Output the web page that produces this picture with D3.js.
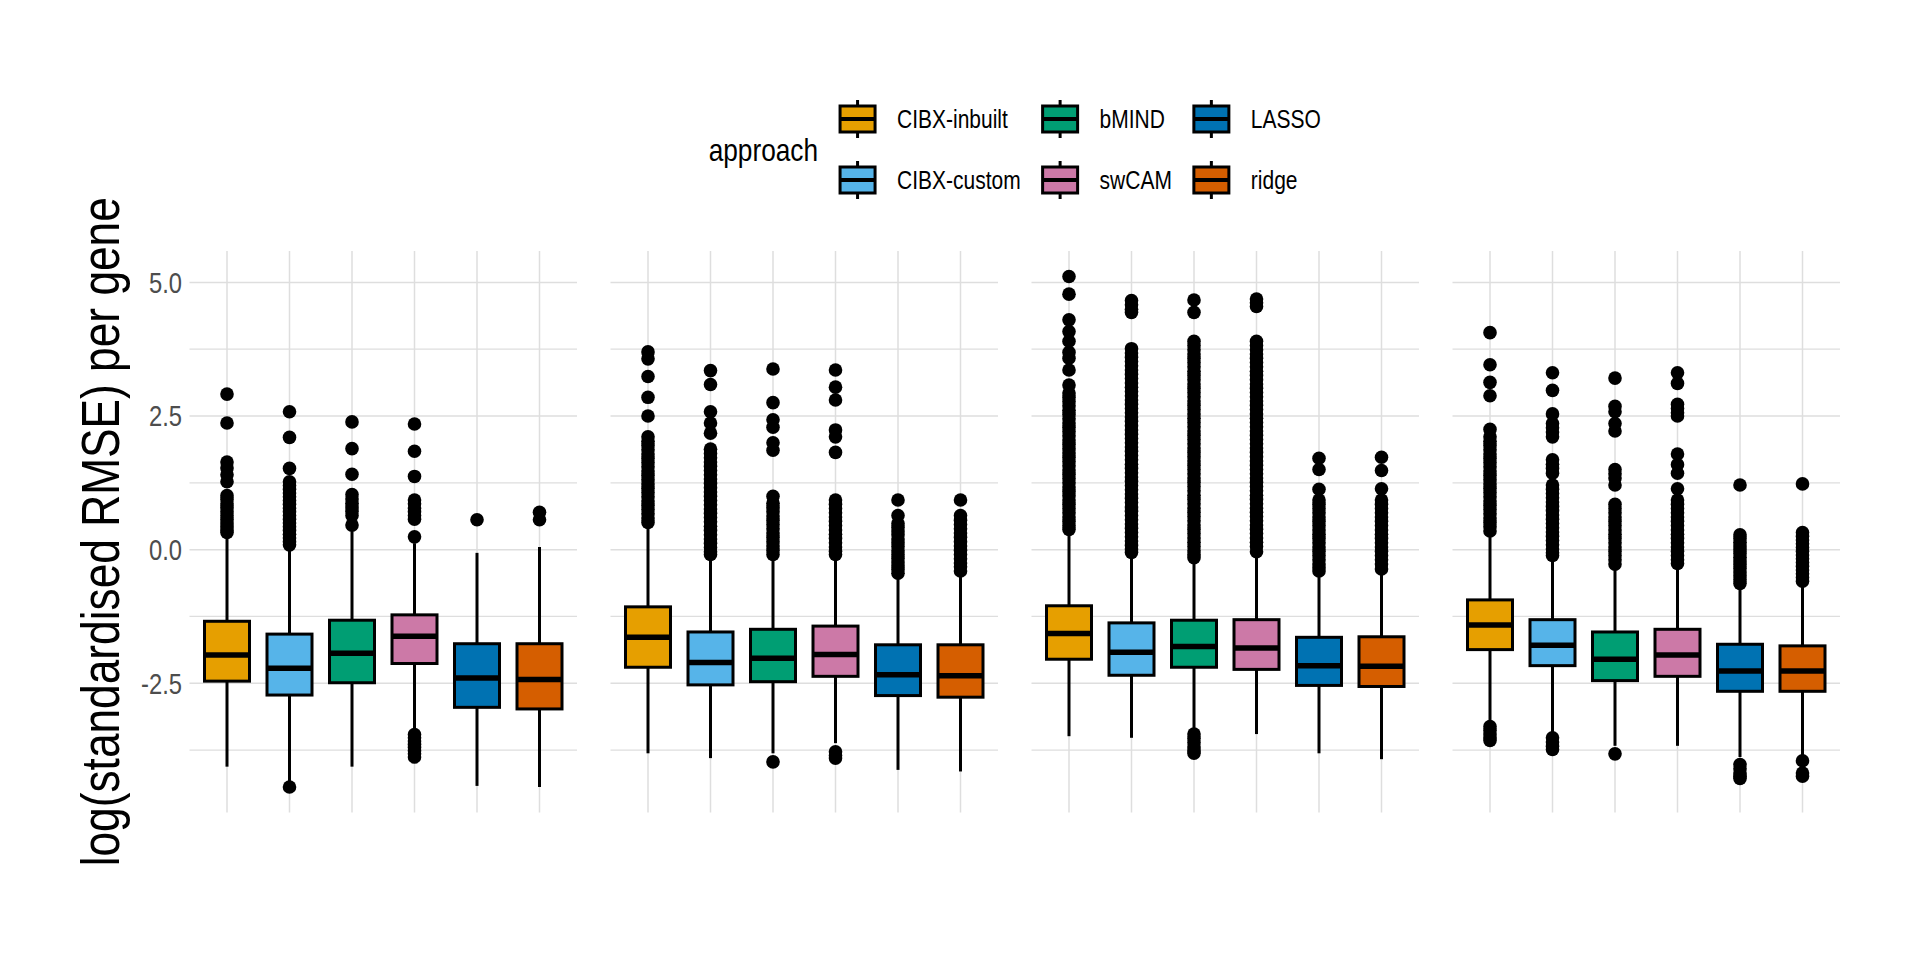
<!DOCTYPE html>
<html><head><meta charset="utf-8">
<script src="https://cdn.jsdelivr.net/npm/d3@7/dist/d3.min.js"></script>
<style>body{margin:0;background:#fff}svg{display:block}</style>
</head><body>
<svg id="chart" width="1920" height="960"></svg>
<script>
// ---------------- data ----------------
const approaches = ["CIBX-inbuilt", "CIBX-custom", "bMIND", "swCAM", "LASSO", "ridge"];
const approachColors = ["#E69F00", "#56B4E9", "#009E73", "#CC79A7", "#0072B2", "#D55E00"];
const panels = ["panel1", "panel2", "panel3", "panel4"];
const yMajorTicks = [-2.5, 0, 2.5, 5];
const yMinorTicks = [-3.75, -1.25, 1.25, 3.75];
const yTickLabels = ["-2.5", "0.0", "2.5", "5.0"];

// rows = panels, columns = approaches
const q1 = [
  [-2.46, -2.72, -2.49, -2.13, -2.95, -2.98],
  [-2.20, -2.53, -2.47, -2.37, -2.73, -2.76],
  [-2.05, -2.35, -2.20, -2.24, -2.54, -2.56],
  [-1.87, -2.17, -2.45, -2.37, -2.65, -2.65]
];
const medians = [
  [-1.97, -2.22, -1.94, -1.62, -2.40, -2.43],
  [-1.64, -2.11, -2.03, -1.96, -2.34, -2.36],
  [-1.57, -1.92, -1.81, -1.84, -2.17, -2.18],
  [-1.41, -1.79, -2.05, -1.97, -2.27, -2.27]
];
const q3 = [
  [-1.34, -1.58, -1.32, -1.22, -1.76, -1.76],
  [-1.07, -1.54, -1.49, -1.43, -1.78, -1.78],
  [-1.05, -1.37, -1.32, -1.31, -1.64, -1.63],
  [-0.94, -1.31, -1.54, -1.49, -1.77, -1.80]
];
const whiskerLow = [
  [-4.06, -4.36, -4.06, -3.41, -4.42, -4.44],
  [-3.81, -3.90, -3.81, -3.62, -4.12, -4.15],
  [-3.49, -3.52, -3.34, -3.45, -3.81, -3.92],
  [-3.27, -3.45, -3.67, -3.67, -3.88, -3.85]
];
const whiskerHigh = [
  [0.28, 0.03, 0.40, 0.12, -0.06, 0.05],
  [0.45, -0.12, -0.15, -0.14, -0.50, -0.48],
  [0.33, -0.10, -0.20, -0.10, -0.45, -0.42],
  [0.30, -0.16, -0.34, -0.32, -0.70, -0.67]
];

const outliersPanel1 = [
  [2.91, 2.37, 1.64, 1.53, 1.40, 1.27, 1.01, 0.94, 0.86, 0.79, 0.71, 0.64, 0.57, 0.50, 0.43, 0.37, 0.32],
  [2.58, 2.10, 1.52, 1.27, 1.20, 1.13, 1.06, 0.99, 0.92, 0.85, 0.78, 0.71, 0.64, 0.57, 0.50, 0.43, 0.36, 0.29, 0.22, 0.15, 0.09, -4.44],
  [2.39, 1.89, 1.41, 1.03, 0.95, 0.87, 0.80, 0.72, 0.64, 0.46],
  [2.35, 1.84, 1.37, 0.93, 0.86, 0.78, 0.71, 0.64, 0.57, 0.24, -3.46, -3.52, -3.58, -3.64, -3.70, -3.76, -3.82, -3.88],
  [0.56],
  [0.70, 0.56]
];
const outliersPanel2 = [
  [3.70, 3.57, 3.24, 2.85, 2.50, 2.11, 2.03, 1.95, 1.87, 1.79, 1.71, 1.63, 1.55, 1.47, 1.39, 1.31, 1.23, 1.15, 1.07, 0.99, 0.91, 0.83, 0.75, 0.67, 0.59, 0.51],
  [3.35, 3.09, 2.58, 2.37, 2.18, 1.88, 1.80, 1.72, 1.64, 1.56, 1.48, 1.40, 1.32, 1.24, 1.16, 1.08, 1.00, 0.92, 0.84, 0.76, 0.68, 0.60, 0.52, 0.44, 0.36, 0.28, 0.20, 0.12, 0.04, -0.04, -0.09],
  [3.38, 2.75, 2.43, 2.29, 2.00, 1.86, 1.00, 0.87, 0.79, 0.71, 0.63, 0.55, 0.47, 0.39, 0.31, 0.23, 0.15, 0.07, -0.01, -0.09, -3.97],
  [3.36, 3.04, 2.80, 2.24, 2.11, 1.82, 0.93, 0.85, 0.77, 0.69, 0.61, 0.53, 0.45, 0.37, 0.29, 0.21, 0.13, 0.05, -0.03, -0.09, -3.78, -3.85, -3.90],
  [0.93, 0.64, 0.49, 0.42, 0.35, 0.28, 0.20, 0.13, 0.06, -0.02, -0.09, -0.16, -0.23, -0.30, -0.37, -0.44],
  [0.93, 0.64, 0.55, 0.47, 0.39, 0.31, 0.23, 0.15, 0.07, -0.01, -0.09, -0.17, -0.25, -0.32, -0.40]
];
const outliersPanel3 = [
  [5.11, 4.78, 4.30, 4.08, 3.90, 3.69, 3.58, 3.36, 3.08, 2.93, 2.85, 2.77, 2.69, 2.61, 2.53, 2.45, 2.37, 2.29, 2.21, 2.13, 2.05, 1.97, 1.89, 1.81, 1.73, 1.65, 1.57, 1.49, 1.41, 1.33, 1.25, 1.17, 1.09, 1.01, 0.93, 0.85, 0.77, 0.69, 0.61, 0.53, 0.45, 0.38],
  [4.66, 4.58, 4.50, 4.44, 3.76, 3.68, 3.60, 3.52, 3.44, 3.36, 3.28, 3.20, 3.12, 3.04, 2.96, 2.88, 2.80, 2.72, 2.64, 2.56, 2.48, 2.40, 2.32, 2.24, 2.16, 2.08, 2.00, 1.92, 1.84, 1.76, 1.68, 1.60, 1.52, 1.44, 1.36, 1.28, 1.20, 1.12, 1.04, 0.96, 0.88, 0.80, 0.72, 0.64, 0.56, 0.48, 0.40, 0.32, 0.24, 0.16, 0.08, 0.01, -0.05],
  [4.67, 4.44, 3.90, 3.82, 3.74, 3.66, 3.58, 3.50, 3.42, 3.34, 3.26, 3.18, 3.10, 3.02, 2.94, 2.86, 2.78, 2.70, 2.62, 2.54, 2.46, 2.38, 2.30, 2.22, 2.14, 2.06, 1.98, 1.90, 1.82, 1.74, 1.66, 1.58, 1.50, 1.42, 1.34, 1.26, 1.18, 1.10, 1.02, 0.94, 0.86, 0.78, 0.70, 0.62, 0.54, 0.46, 0.38, 0.30, 0.22, 0.14, 0.06, -0.02, -0.09, -0.15, -3.45, -3.53, -3.61, -3.69, -3.76, -3.81],
  [4.69, 4.62, 4.55, 3.90, 3.82, 3.74, 3.66, 3.58, 3.50, 3.42, 3.34, 3.26, 3.18, 3.10, 3.02, 2.94, 2.86, 2.78, 2.70, 2.62, 2.54, 2.46, 2.38, 2.30, 2.22, 2.14, 2.06, 1.98, 1.90, 1.82, 1.74, 1.66, 1.58, 1.50, 1.42, 1.34, 1.26, 1.18, 1.10, 1.02, 0.94, 0.86, 0.78, 0.70, 0.62, 0.54, 0.46, 0.38, 0.30, 0.22, 0.14, 0.06, -0.04],
  [1.71, 1.50, 1.13, 0.93, 0.85, 0.77, 0.69, 0.61, 0.53, 0.45, 0.37, 0.29, 0.21, 0.13, 0.05, -0.03, -0.11, -0.19, -0.27, -0.34, -0.40],
  [1.73, 1.48, 1.14, 0.93, 0.85, 0.77, 0.69, 0.61, 0.53, 0.45, 0.37, 0.29, 0.21, 0.13, 0.05, -0.03, -0.11, -0.19, -0.27, -0.36]
];
const outliersPanel4 = [
  [4.06, 3.46, 3.13, 2.88, 2.25, 2.11, 2.03, 1.95, 1.87, 1.79, 1.71, 1.63, 1.55, 1.47, 1.39, 1.31, 1.23, 1.15, 1.07, 0.99, 0.91, 0.83, 0.75, 0.67, 0.59, 0.51, 0.43, 0.35, -3.31, -3.38, -3.45, -3.52, -3.57],
  [3.31, 2.98, 2.54, 2.36, 2.28, 2.20, 2.11, 1.68, 1.60, 1.52, 1.43, 1.21, 1.13, 1.05, 0.97, 0.89, 0.81, 0.73, 0.65, 0.57, 0.49, 0.41, 0.33, 0.25, 0.17, 0.09, 0.01, -0.06, -0.11, -3.52, -3.60, -3.68, -3.74],
  [3.21, 2.68, 2.58, 2.36, 2.22, 1.50, 1.42, 1.34, 1.21, 0.85, 0.77, 0.69, 0.61, 0.53, 0.45, 0.37, 0.29, 0.21, 0.13, 0.05, -0.03, -0.11, -0.19, -0.27, -3.82],
  [3.31, 3.11, 2.72, 2.64, 2.56, 2.50, 1.79, 1.59, 1.43, 1.14, 0.93, 0.85, 0.77, 0.69, 0.61, 0.53, 0.45, 0.37, 0.29, 0.21, 0.13, 0.05, -0.03, -0.11, -0.19, -0.26],
  [1.21, 0.28, 0.21, 0.14, 0.07, 0.00, -0.07, -0.14, -0.21, -0.28, -0.35, -0.42, -0.49, -0.56, -0.63, -4.02, -4.10, -4.18, -4.24, -4.28],
  [1.23, 0.32, 0.25, 0.18, 0.11, 0.04, -0.03, -0.10, -0.17, -0.24, -0.31, -0.38, -0.45, -0.52, -0.59, -3.95, -4.18, -4.24]
];
const outliersByPanel = [outliersPanel1, outliersPanel2, outliersPanel3, outliersPanel4];

// ---------------- layout ----------------
const FONT = "'Liberation Sans', Arial, sans-serif";
const NARROW = 0.82; // horizontal condensing to mimic a narrow Helvetica
const panelLeft = 189.5, panelWidth = 387.5, panelGap = 33.5;
const panelTop = 251, panelBottom = 812.5;
const gridColor = "#DEDEDE";
const svg = d3.select("#chart");
svg.append("rect").attr("width", 1920).attr("height", 960).attr("fill", "#fff");

function narrowText(parent, x, y, str, size, color, anchor, rotate) {
  return parent.append("text")
    .attr("transform", `translate(${x},${y})${rotate ? " rotate(" + rotate + ")" : ""} scale(${NARROW},1)`)
    .attr("text-anchor", anchor || "start")
    .attr("font-family", FONT).attr("font-size", size).attr("fill", color).text(str);
}

// y scale with 5% expansion of data range
const allVals = [];
panels.forEach((p, i) => {
  whiskerLow[i].forEach(v => allVals.push(v));
  whiskerHigh[i].forEach(v => allVals.push(v));
  outliersByPanel[i].forEach(arr => arr.forEach(v => allVals.push(v)));
});
const [dMin, dMax] = d3.extent(allVals);
const pad = (dMax - dMin) * 0.05;
const y = d3.scaleLinear().domain([dMin - pad, dMax + pad]).range([panelBottom, panelTop]);

const panelX = d3.scaleBand().domain(panels).range([panelLeft, panelLeft + 4 * panelWidth + 3 * panelGap])
  .paddingInner(panelGap / (panelWidth + panelGap)).paddingOuter(0);

const x = d3.scalePoint().domain(approaches).range([0, panelX.bandwidth()]).padding(0.6);
const boxW = x.step() * 0.72;
const lw = 3;

panels.forEach((p, pi) => {
  const g = svg.append("g").attr("transform", `translate(${panelX(p)},0)`);
  const W = panelX.bandwidth();
  g.selectAll("line.minor").data(yMinorTicks).join("line")
    .attr("x1", 0).attr("x2", W).attr("y1", d => y(d)).attr("y2", d => y(d))
    .attr("stroke", gridColor).attr("stroke-width", 1.3);
  g.selectAll("line.major").data(yMajorTicks).join("line")
    .attr("x1", 0).attr("x2", W).attr("y1", d => y(d)).attr("y2", d => y(d))
    .attr("stroke", gridColor).attr("stroke-width", 1.5);
  g.selectAll("line.vgrid").data(approaches).join("line")
    .attr("x1", d => x(d)).attr("x2", d => x(d)).attr("y1", panelTop).attr("y2", panelBottom)
    .attr("stroke", gridColor).attr("stroke-width", 1.5);

  approaches.forEach((a, ai) => {
    const cx = x(a);
    g.selectAll(null).data(outliersByPanel[pi][ai]).join("circle")
      .attr("cx", cx).attr("cy", d => y(d)).attr("r", 6.8).attr("fill", "#000");
    g.append("line").attr("x1", cx).attr("x2", cx)
      .attr("y1", y(q3[pi][ai])).attr("y2", y(whiskerHigh[pi][ai]))
      .attr("stroke", "#000").attr("stroke-width", lw);
    g.append("line").attr("x1", cx).attr("x2", cx)
      .attr("y1", y(q1[pi][ai])).attr("y2", y(whiskerLow[pi][ai]))
      .attr("stroke", "#000").attr("stroke-width", lw);
    g.append("rect").attr("x", cx - boxW / 2).attr("width", boxW)
      .attr("y", y(q3[pi][ai])).attr("height", y(q1[pi][ai]) - y(q3[pi][ai]))
      .attr("fill", approachColors[ai]).attr("stroke", "#000").attr("stroke-width", lw);
    g.append("line").attr("x1", cx - boxW / 2).attr("x2", cx + boxW / 2)
      .attr("y1", y(medians[pi][ai])).attr("y2", y(medians[pi][ai]))
      .attr("stroke", "#000").attr("stroke-width", 5.5);
  });
});

// y tick labels
const tickFS = 29;
yMajorTicks.forEach((d, i) => narrowText(svg, panelLeft - 7.5, y(d) + 0.358 * tickFS, yTickLabels[i], tickFS, "#4D4D4D", "end"));

// y axis title
narrowText(svg, 119, (panelTop + panelBottom) / 2, "log(standardised RMSE) per gene", 54, "#000", "middle", -90);

// legend
const leg = svg.append("g");
const titleFS = 32, labelFS = 25.6;
const keyW = 35, keyH = 26, gapKT = 22, gapCol = 22;
const rowY = [119, 180];
const title = narrowText(leg, 0, 0, "approach", titleFS, "#000", "start");
const titleW = title.node().getComputedTextLength() * NARROW;
const labels = approaches.map(a => narrowText(leg, 0, 0, a, labelFS, "#000", "start"));
const labelW = labels.map(t => t.node().getComputedTextLength() * NARROW);
const nCols = 3;
const colW = d3.range(nCols).map(c => Math.max(labelW[2 * c], labelW[2 * c + 1]));
const totalW = titleW + gapCol + d3.sum(colW) + nCols * (keyW + gapKT) + (nCols - 1) * gapCol;
const center = panelLeft + (4 * panelWidth + 3 * panelGap) / 2;
let cursor = center - totalW / 2;
title.attr("transform", `translate(${cursor},${(rowY[0] + rowY[1]) / 2 + 0.358 * titleFS}) scale(${NARROW},1)`);
cursor += titleW + gapCol;
for (let c = 0; c < nCols; c++) {
  for (let r = 0; r < 2; r++) {
    const ai = 2 * c + r;
    const cy = rowY[r];
    const kx = cursor;
    leg.append("line").attr("x1", kx + keyW / 2).attr("x2", kx + keyW / 2)
      .attr("y1", cy - keyH / 2 - 6).attr("y2", cy + keyH / 2 + 6)
      .attr("stroke", "#000").attr("stroke-width", lw);
    leg.append("rect").attr("x", kx).attr("y", cy - keyH / 2).attr("width", keyW).attr("height", keyH)
      .attr("fill", approachColors[ai]).attr("stroke", "#000").attr("stroke-width", lw);
    leg.append("line").attr("x1", kx).attr("x2", kx + keyW).attr("y1", cy).attr("y2", cy)
      .attr("stroke", "#000").attr("stroke-width", 4);
    labels[ai].attr("transform", `translate(${kx + keyW + gapKT},${cy + 0.358 * labelFS}) scale(${NARROW},1)`);
  }
  cursor += keyW + gapKT + colW[c] + gapCol;
}
</script>
</body></html>
